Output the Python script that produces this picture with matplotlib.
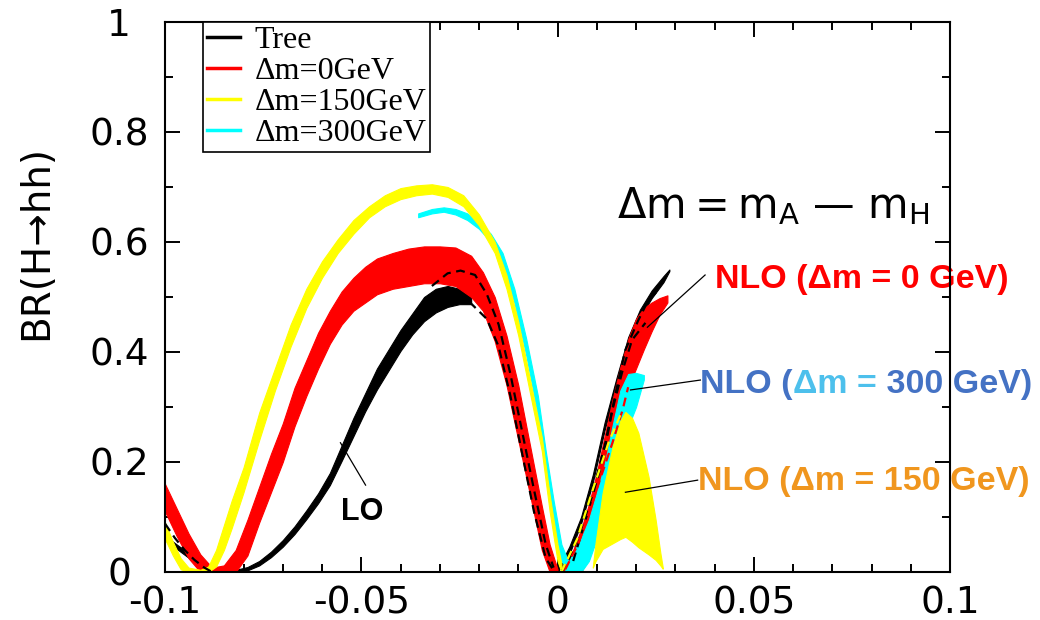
import matplotlib
matplotlib.use('Agg')
import matplotlib.pyplot as plt
from matplotlib.lines import Line2D
from matplotlib.ticker import FixedLocator, MultipleLocator, FixedFormatter

plt.rcParams['axes.unicode_minus'] = False
plt.rcParams['mathtext.fontset'] = 'dejavusans'

# ---------------- data ----------------
xticks_major = [-0.1, -0.05, 0.0, 0.05, 0.1]
xtick_labels = ['-0.1', '-0.05', '0', '0.05', '0.1']
yticks_major = [0.0, 0.2, 0.4, 0.6, 0.8, 1.0]
ytick_labels = ['0', '0.2', '0.4', '0.6', '0.8', '1']
ylabel_text = 'BR(H→hh)'

legend_labels = ['Tree', 'Δm=0GeV', 'Δm=150GeV', 'Δm=300GeV']
legend_colors = ['#000000', '#ff0000', '#ffff00', '#00ffff']

# Tree (LO) band - left lobe
tree_left_x = [-0.1, -0.097, -0.094, -0.091, -0.088, -0.085, -0.082, -0.079, -0.076, -0.073, -0.070,
               -0.067, -0.064, -0.061, -0.058, -0.055, -0.052, -0.049, -0.046, -0.043, -0.040, -0.037,
               -0.034, -0.031, -0.028, -0.025, -0.022]
tree_left_lo = [0.058, 0.042, 0.026, 0.013, 0.004, 0.0, 0.0, 0.003, 0.012, 0.027, 0.046,
                0.069, 0.096, 0.125, 0.158, 0.202, 0.247, 0.292, 0.332, 0.367, 0.402, 0.432,
                0.456, 0.472, 0.482, 0.487, 0.487]
tree_left_hi = [0.066, 0.05, 0.034, 0.02, 0.01, 0.004, 0.004, 0.009, 0.02, 0.037, 0.058,
                0.083, 0.112, 0.143, 0.18, 0.23, 0.28, 0.325, 0.37, 0.405, 0.44, 0.47,
                0.5, 0.515, 0.52, 0.515, 0.505]
# Tree (LO) band - right lobe
tree_right_x = [0.0, 0.003, 0.006, 0.009, 0.012, 0.015, 0.018, 0.021, 0.024, 0.027, 0.0285]
tree_right_lo = [0.0, 0.032, 0.088, 0.163, 0.258, 0.338, 0.413, 0.463, 0.498, 0.527, 0.547]
tree_right_hi = [0.004, 0.046, 0.1, 0.177, 0.272, 0.352, 0.427, 0.477, 0.512, 0.538, 0.55]

# NLO dm = 0 GeV (red)
red_left_x = [-0.1, -0.097, -0.094, -0.091, -0.088, -0.085, -0.082, -0.079, -0.076, -0.073, -0.070,
              -0.067, -0.064, -0.061, -0.058, -0.055, -0.052, -0.049, -0.046, -0.042, -0.038, -0.034,
              -0.030, -0.026, -0.022, -0.019, -0.016, -0.013, -0.010, -0.007, -0.004, -0.002, 0.0]
red_left_lo = [0.11, 0.065, 0.025, 0.0, 0.0, 0.0, 0.0, 0.03, 0.09, 0.145, 0.20,
               0.265, 0.32, 0.37, 0.415, 0.45, 0.475, 0.49, 0.505, 0.515, 0.52, 0.525,
               0.525, 0.52, 0.50, 0.475, 0.42, 0.34, 0.24, 0.14, 0.04, 0.0, 0.0]
red_left_hi = [0.16, 0.115, 0.07, 0.032, 0.008, 0.012, 0.04, 0.095, 0.155, 0.215, 0.27,
               0.335, 0.385, 0.435, 0.475, 0.51, 0.535, 0.555, 0.57, 0.58, 0.588, 0.592,
               0.592, 0.59, 0.575, 0.545, 0.50, 0.43, 0.34, 0.23, 0.12, 0.05, 0.005]
red_right_x = [0.001, 0.004, 0.006, 0.008, 0.010, 0.012, 0.014, 0.016, 0.018, 0.020, 0.022, 0.024, 0.026, 0.028]
red_right_lo = [0.0, 0.0, 0.0, 0.025, 0.08, 0.14, 0.2, 0.28, 0.335, 0.37, 0.405, 0.438, 0.468, 0.49]
red_right_hi = [0.004, 0.04, 0.077, 0.123, 0.18, 0.247, 0.313, 0.372, 0.423, 0.46, 0.48, 0.49, 0.498, 0.503]

# NLO dm = 150 GeV (yellow)
yel_left_x = [-0.1, -0.098, -0.096, -0.094, -0.091, -0.089, -0.087, -0.085, -0.083, -0.080, -0.076,
              -0.072, -0.068, -0.064, -0.060, -0.056, -0.052, -0.048, -0.044, -0.040, -0.036, -0.032,
              -0.028, -0.024, -0.020, -0.016, -0.013, -0.010, -0.007, -0.004, -0.002, 0.0, 0.001]
yel_left_lo = [0.06, 0.03, 0.005, 0.0, 0.0, 0.0, 0.01, 0.04, 0.08, 0.145, 0.24,
               0.33, 0.41, 0.48, 0.535, 0.58, 0.615, 0.645, 0.665, 0.678, 0.685, 0.688,
               0.682, 0.665, 0.63, 0.58, 0.515, 0.43, 0.325, 0.22, 0.11, 0.02, 0.0]
yel_left_hi = [0.09, 0.055, 0.025, 0.008, 0.004, 0.01, 0.04, 0.085, 0.13, 0.19, 0.29,
               0.37, 0.45, 0.515, 0.565, 0.605, 0.64, 0.665, 0.685, 0.698, 0.703, 0.705,
               0.70, 0.685, 0.65, 0.60, 0.54, 0.455, 0.35, 0.245, 0.14, 0.05, 0.015]
yel_right_x = [0.009, 0.0097, 0.0115, 0.014, 0.016, 0.0173, 0.019, 0.0206, 0.0232, 0.025, 0.0262, 0.0268]
yel_right_lo = [0.008, 0.02, 0.042, 0.052, 0.06, 0.064, 0.055, 0.045, 0.032, 0.022, 0.012, 0.006]
yel_right_hi = [0.01, 0.053, 0.144, 0.227, 0.275, 0.291, 0.28, 0.253, 0.173, 0.095, 0.035, 0.009]

# NLO dm = 300 GeV (cyan)
cyan_left_x = [-0.0355, -0.032, -0.029, -0.026, -0.023, -0.020, -0.017, -0.014, -0.011, -0.008,
               -0.005, -0.003, -0.001, 0.001, 0.003]
cyan_left_lo = [0.645, 0.652, 0.655, 0.65, 0.64, 0.624, 0.60, 0.56, 0.49, 0.395,
                0.285, 0.18, 0.09, 0.02, 0.0]
cyan_left_hi = [0.652, 0.66, 0.663, 0.66, 0.652, 0.636, 0.615, 0.58, 0.515, 0.425,
                0.32, 0.22, 0.13, 0.05, 0.015]
cyan_right_x = [0.002, 0.004, 0.006, 0.008, 0.010, 0.012, 0.014, 0.016, 0.018, 0.020, 0.022]
cyan_right_lo = [0.0, 0.0, 0.0, 0.02, 0.06, 0.125, 0.18, 0.23, 0.264, 0.30, 0.35]
cyan_right_hi = [0.004, 0.035, 0.06, 0.095, 0.143, 0.195, 0.265, 0.33, 0.36, 0.362, 0.358]

# dashed central curves
dashA_x = [-0.032, -0.028, -0.0247, -0.021, -0.018, -0.015, -0.012, -0.009, -0.006, -0.003, -0.001]
dashA_y = [0.52, 0.543, 0.548, 0.54, 0.505, 0.45, 0.36, 0.255, 0.15, 0.05, 0.008]
dashB_x = [-0.026, -0.022, -0.018, -0.015, -0.012, -0.009, -0.006, -0.003, -0.001]
dashB_y = [0.5, 0.488, 0.46, 0.41, 0.32, 0.215, 0.11, 0.025, 0.003]
dashL_x = [-0.1, -0.0975, -0.095, -0.0925, -0.09, -0.088]
dashL_y = [0.088, 0.062, 0.04, 0.022, 0.008, 0.0]
dashC_x = [0.001, 0.0037, 0.0089, 0.0122, 0.0148, 0.0173, 0.0206, 0.0232, 0.026]
dashC_y = [0.0, 0.034, 0.144, 0.235, 0.325, 0.404, 0.458, 0.495, 0.515]
dashD_x = [0.004, 0.0079, 0.0115, 0.014, 0.0166, 0.019, 0.0224]
dashD_y = [0.02, 0.113, 0.204, 0.295, 0.367, 0.422, 0.453]
dashR_x = [0.002, 0.0054, 0.0097, 0.014, 0.0166, 0.018]
dashR_y = [0.005, 0.053, 0.144, 0.235, 0.295, 0.336]
dashY_x = [0.001, 0.005, 0.009, 0.013, 0.016]
dashY_y = [0.0, 0.06, 0.15, 0.235, 0.285]

# annotations
lo_text_pos = (-0.0497, 0.109)
lo_line_x = [-0.0553, -0.0489]
lo_line_y = [0.235, 0.158]
dm_def_pos = (0.0152, 0.644)
nlo0_line_x = [0.0229, 0.0376]
nlo0_line_y = [0.445, 0.54]
nlo0_text_pos = (0.0402, 0.532)
nlo300_line_x = [0.0186, 0.0364]
nlo300_line_y = [0.331, 0.349]
nlo300_text_pos = (0.0364, 0.348)
nlo150_line_x = [0.0173, 0.0357]
nlo150_line_y = [0.145, 0.167]
nlo150_text_pos = (0.0357, 0.165)

# ---------------- figure ----------------
fig = plt.figure(figsize=(10.4, 6.2), dpi=100)
ax = fig.add_axes([165 / 1040, 1 - 572 / 620, 785 / 1040, 550 / 620])
ax.set_xlim(-0.1, 0.1)
ax.set_ylim(0, 1)

ax.fill_between(tree_left_x, tree_left_lo, tree_left_hi, color='black', lw=0.8, zorder=2)
ax.fill_between(tree_right_x, tree_right_lo, tree_right_hi, color='black', lw=0.8, zorder=2)
ax.fill_between(red_left_x, red_left_lo, red_left_hi, color='#ff0000', lw=0.8, zorder=3)
ax.fill_between(red_right_x, red_right_lo, red_right_hi, color='#ff0000', lw=0.8, zorder=3)
ax.fill_between(cyan_left_x, cyan_left_lo, cyan_left_hi, color='#00ffff', lw=0.8, zorder=3.5)
ax.fill_between(cyan_right_x, cyan_right_lo, cyan_right_hi, color='#00ffff', lw=0.8, zorder=3.5)
ax.fill_between(yel_left_x, yel_left_lo, yel_left_hi, color='#ffff00', lw=0.8, zorder=3.7)
ax.fill_between(yel_right_x, yel_right_lo, yel_right_hi, color='#ffff00', lw=0.8, zorder=3.7)

dash = (0, (4, 2.5))
for xs, ys in [(dashA_x, dashA_y), (dashB_x, dashB_y), (dashL_x, dashL_y), (dashC_x, dashC_y), (dashD_x, dashD_y)]:
    ax.plot(xs, ys, color='black', lw=1.6, linestyle=dash, zorder=4)
ax.plot(dashR_x, dashR_y, color='#ff0000', lw=1.6, linestyle=dash, zorder=4)
ax.plot(dashY_x, dashY_y, color='#ffff00', lw=1.6, linestyle=dash, zorder=4)

# axes styling
for sp in ax.spines.values():
    sp.set_linewidth(1.5)
    sp.set_zorder(6)
ax.xaxis.set_major_locator(FixedLocator(xticks_major))
ax.xaxis.set_major_formatter(FixedFormatter(xtick_labels))
ax.xaxis.set_minor_locator(MultipleLocator(0.01))
ax.yaxis.set_major_locator(FixedLocator(yticks_major))
ax.yaxis.set_major_formatter(FixedFormatter(ytick_labels))
ax.yaxis.set_minor_locator(MultipleLocator(0.1))
ax.tick_params(which='both', direction='in', top=True, right=True, width=1.4, colors='black')
ax.tick_params(which='major', length=10.5)
ax.tick_params(which='minor', length=5.5)
ax.tick_params(axis='x', which='major', labelsize=27, pad=10)
ax.tick_params(axis='y', which='major', labelsize=27, pad=33)
for lab in ax.get_yticklabels():
    lab.set_horizontalalignment('center')

fig.text(36 / 1040, 1 - 243 / 620, ylabel_text, rotation=90, ha='center', va='center', fontsize=28)

# legend
handles = [Line2D([0], [0], color=c, lw=2.5) for c in legend_colors]
leg = ax.legend(handles, legend_labels, loc='upper left', bbox_to_anchor=(0.048, 1.0),
                borderaxespad=0, frameon=True, fancybox=False, framealpha=1,
                prop={'family': 'Liberation Serif', 'size': 23},
                handlelength=1.05, handletextpad=0.45, labelspacing=0.05, borderpad=0.12)
leg.get_frame().set_edgecolor('black')
leg.get_frame().set_linewidth(1.2)
leg.set_zorder(7)

# annotations
ax.plot(lo_line_x, lo_line_y, color='black', lw=0.9, zorder=5)
ax.text(*lo_text_pos, 'LO', ha='center', va='center', fontsize=22, fontweight='bold',
        family='Liberation Sans', zorder=5)

ax.text(*dm_def_pos, r'$\Delta \mathrm{m} = \mathrm{m}_\mathrm{A}$ — $\mathrm{m}_\mathrm{H}$',
        ha='left', va='baseline', fontsize=30, zorder=5)

ax.plot(nlo0_line_x, nlo0_line_y, color='black', lw=0.9, zorder=5)
ax.text(*nlo0_text_pos, 'NLO (Δm = 0 GeV)', ha='left', va='center', fontsize=24.5,
        fontweight='bold', family='Liberation Sans', color='#ff0000', zorder=2, clip_on=False)

ax.plot(nlo300_line_x, nlo300_line_y, color='black', lw=0.9, zorder=5)
pieces = [('NLO (', '#4472c4'), ('Δm =', '#4dc0ec'), (' 300 GeV)', '#4472c4')]
fig.canvas.draw()
renderer = fig.canvas.get_renderer()
off = 0.0
for txt, col in pieces:
    t = ax.annotate(txt, xy=nlo300_text_pos, xycoords='data', xytext=(off, -12),
                    textcoords='offset pixels', ha='left', va='baseline', fontsize=24.5,
                    fontweight='bold', family='Liberation Sans', color=col, zorder=2,
                    annotation_clip=False)
    off += t.get_window_extent(renderer).width

ax.plot(nlo150_line_x, nlo150_line_y, color='black', lw=0.9, zorder=5)
ax.text(*nlo150_text_pos, 'NLO (Δm = 150 GeV)', ha='left', va='center', fontsize=24.5,
        fontweight='bold', family='Liberation Sans', color='#f0961e', zorder=2, clip_on=False)

fig.savefig('out.png', dpi=100)
